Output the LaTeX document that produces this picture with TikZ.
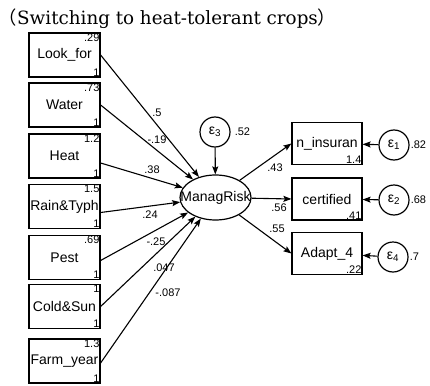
\documentclass[tikz,border=0pt]{standalone}
\usepackage{fontspec}
\setmainfont{Liberation Sans}
\newfontfamily\titlefont{DejaVu Serif}
\newfontfamily\cjk{Noto Sans CJK SC}
\usetikzlibrary{arrows.meta, shapes.geometric}

\tikzset{
  obs/.style={draw, line width=1.2pt, inner sep=0pt, font=\fontsize{14}{16}\selectfont},
  lat/.style={draw, ellipse, line width=1.2pt, minimum width=71pt, minimum height=45pt, inner sep=0pt, font=\fontsize{14}{16}\selectfont},
  err/.style={draw, circle, line width=1.2pt, minimum size=30pt, inner sep=0pt, font=\fontsize{14}{16}\selectfont},
  num/.style={font=\fontsize{11}{12}\selectfont, inner sep=1pt},
  path/.style={line width=1.1pt, -{Stealth[length=8pt,width=6pt,inset=1.5pt]}}
}

\begin{document}
\begin{tikzpicture}[x=1pt, y=-1pt]
  \useasboundingbox (0,0) rectangle (430,385);

  % title
  \node[anchor=base west, inner sep=0pt, font=\fontsize{18.3}{20}\selectfont] (title) at (17,25)
    {\llap{\cjk （}{\titlefont Switching to heat-tolerant crops}{\cjk ）}};

  % exogenous variables
  \foreach \n/\y/\t/\v in {lf/55/Look\_for/.29, wa/105/Water/.73, he/156/Heat/1.2,
      rt/206.5/Rain\&Typh/1.5, pe/257.5/Pest/.69, cs/306.5/Cold\&Sun/1, fy/361/Farm\_year/1.3}
    \node[obs, minimum width=71pt, minimum height=44pt,
      label={[num, anchor=north east]north east:\v},
      label={[num, anchor=south east]south east:1}] (\n) at (64.5,\y) {\t};

  % latent
  \node[lat] (mr) at (215.5,197.5) {\makebox[0pt]{ManagRisk}};
  \node[err, label={[num, label distance=3pt]right:.52}] (e3) at (215,132) {ε\textsubscript{3}};

  % indicators
  \foreach \n/\y/\t/\v in {ni/143.5/n\_insuran/1.4, ce/199/certified/.41, ad/253.5/Adapt\_4/.22}
    \node[obs, minimum width=70pt, minimum height=42pt,
      label={[num, anchor=south east]south east:\v}] (\n) at (327,\y) {\t};

  \node[err, label={[num]right:.82}] (e1) at (394,145) {ε\textsubscript{1}};
  \node[err, label={[num]right:.68}] (e2) at (394,200) {ε\textsubscript{2}};
  \node[err, label={[num]right:.7}] (e4) at (393,257) {ε\textsubscript{4}};

  % paths
  \draw[path] (lf.east) -- (mr);
  \draw[path] (wa.east) -- (mr);
  \draw[path] ([yshift=-7pt]he.east) -- (mr);
  \draw[path] ([yshift=-6pt]rt.east) -- (mr);
  \draw[path] ([yshift=-3pt]pe.east) -- (mr);
  \draw[path] (cs.east) -- (mr);
  \draw[path] ([yshift=-2pt]fy.east) -- (mr);
  \draw[path] (e3) -- (mr);
  \draw[path] (mr) -- (ni.west);
  \draw[path] (mr) -- (ce.west);
  \draw[path] (mr) -- (ad.west);
  \draw[path] (e1) -- (ni);
  \draw[path] (e2) -- (ce);
  \draw[path] (e4) -- (ad);

  % coefficients
  \node[num] (c1) at (157,113) {.5};
  \node[num] (c2) at (157,140) {-.19};
  \node[num] (c3) at (152,170) {.38};
  \node[num] (c4) at (150,215) {.24};
  \node[num] (c5) at (156,242) {-.25};
  \node[num] (c6) at (164,268) {.047};
  \node[num] (c7) at (168,293) {-.087};
  \node[num] (c8) at (275,168) {.43};
  \node[num] (c9) at (279,208) {.56};
  \node[num] (c10) at (277,229) {.55};
\end{tikzpicture}
\end{document}
